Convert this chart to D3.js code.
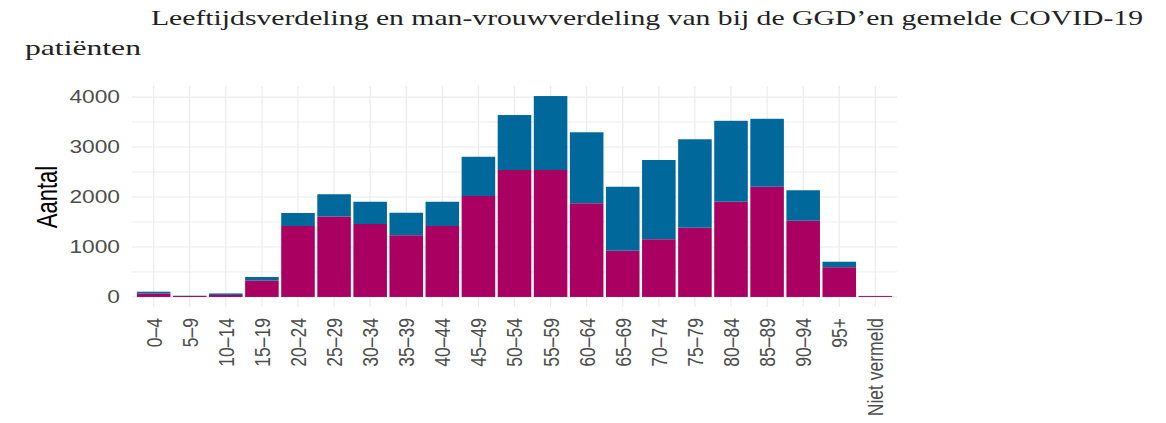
<!DOCTYPE html>
<html>
<head>
<meta charset="utf-8">
<script src="https://cdn.jsdelivr.net/npm/d3@7"></script>
<style>
  body { margin: 0; background: #fff; }
  text { font-family: "Liberation Sans", Arial, sans-serif; }
  .title { font-family: "Liberation Serif", "DejaVu Serif", serif; fill: #222; }
</style>
</head>
<body>
<div id="chart"></div>
<script>
// leeftijdsgroepen
const categories = ["0–4", "5–9", "10–14", "15–19", "20–24", "25–29", "30–34", "35–39",
  "40–44", "45–49", "50–54", "55–59", "60–64", "65–69", "70–74", "75–79", "80–84",
  "85–89", "90–94", "95+", "Niet vermeld"];

// vrouw (onder, roze) en man (boven, blauw)
const vrouw = [70, 20, 40, 330, 1420, 1610, 1460, 1235, 1420, 2020, 2540, 2540,
  1875, 925, 1155, 1385, 1905, 2205, 1525, 595, 18];
const man = [35, 5, 30, 70, 260, 445, 445, 450, 485, 785, 1100, 1480,
  1420, 1280, 1585, 1770, 1620, 1360, 610, 110, 3];

const yTicks = [0, 1000, 2000, 3000, 4000];
const yMinor = [500, 1500, 2500, 3500];

const titleLine1 = "Leeftijdsverdeling en man-vrouwverdeling van bij de GGD’en gemelde COVID-19";
const titleLine2 = "patiënten";

const width = 1166, height = 423;
const panel = { left: 132, right: 897, top: 86, bottom: 307 };
const stretch = 1.3; // tekst is horizontaal uitgerekt in het origineel

const svg = d3.select("#chart").append("svg")
  .attr("width", width)
  .attr("height", height);

// title
svg.append("text").attr("class", "title")
  .attr("x", 151).attr("y", 25)
  .attr("font-size", 22)
  .attr("textLength", 992).attr("lengthAdjust", "spacingAndGlyphs")
  .text(titleLine1);
svg.append("text").attr("class", "title")
  .attr("x", 25).attr("y", 55)
  .attr("font-size", 22)
  .attr("textLength", 116).attr("lengthAdjust", "spacingAndGlyphs")
  .text(titleLine2);

const data = categories.map((c, i) => ({ cat: c, vrouw: vrouw[i], man: man[i] }));
const stacked = d3.stack().keys(["vrouw", "man"])(data);

const x = d3.scalePoint()
  .domain(categories)
  .range([panel.left, panel.right])
  .padding(0.6);

const maxTotal = d3.max(data, d => d.vrouw + d.man);
const y = d3.scaleLinear()
  .domain([-0.05 * maxTotal, maxTotal * 1.05])
  .range([panel.bottom, panel.top]);

// gridlines
const grid = svg.append("g").attr("stroke", "#ebebeb");
grid.selectAll(".minor").data(yMinor).join("line")
  .attr("x1", panel.left).attr("x2", panel.right)
  .attr("y1", d => y(d)).attr("y2", d => y(d))
  .attr("stroke-width", 0.9);
grid.selectAll(".major").data(yTicks).join("line")
  .attr("x1", panel.left).attr("x2", panel.right)
  .attr("y1", d => y(d)).attr("y2", d => y(d))
  .attr("stroke-width", 1.2);
grid.selectAll(".vert").data(categories).join("line")
  .attr("x1", d => x(d)).attr("x2", d => x(d))
  .attr("y1", panel.top).attr("y2", panel.bottom)
  .attr("stroke-width", 1.2);

// bars
const colors = { vrouw: "#A90061", man: "#01689B" };
const barW = x.step() * 0.93;
svg.append("g").selectAll("g").data(stacked).join("g")
  .attr("fill", s => colors[s.key])
  .selectAll("rect").data(s => s).join("rect")
  .attr("x", d => x(d.data.cat) - barW / 2)
  .attr("width", barW)
  .attr("y", d => y(d[1]))
  .attr("height", d => y(d[0]) - y(d[1]));

// y axis labels
svg.append("g").selectAll("text").data(yTicks).join("text")
  .attr("transform", d => `translate(120,${y(d)}) scale(${stretch},1)`)
  .attr("dy", "0.35em")
  .attr("text-anchor", "end")
  .attr("font-size", 17.5)
  .attr("fill", "#4d4d4d")
  .text(d => d);

// x axis labels
svg.append("g").selectAll("text").data(categories).join("text")
  .attr("transform", d => `translate(${x(d)},318) scale(${stretch},1) rotate(-90)`)
  .attr("dy", "0.35em")
  .attr("text-anchor", "end")
  .attr("font-size", 17.5)
  .attr("fill", "#4d4d4d")
  .text(d => d);

// y axis title
svg.append("text")
  .attr("transform", `translate(47,197) scale(${stretch},1) rotate(-90)`)
  .attr("dy", "0.35em")
  .attr("text-anchor", "middle")
  .attr("font-size", 22)
  .attr("fill", "#000")
  .text("Aantal");
</script>
</body>
</html>
